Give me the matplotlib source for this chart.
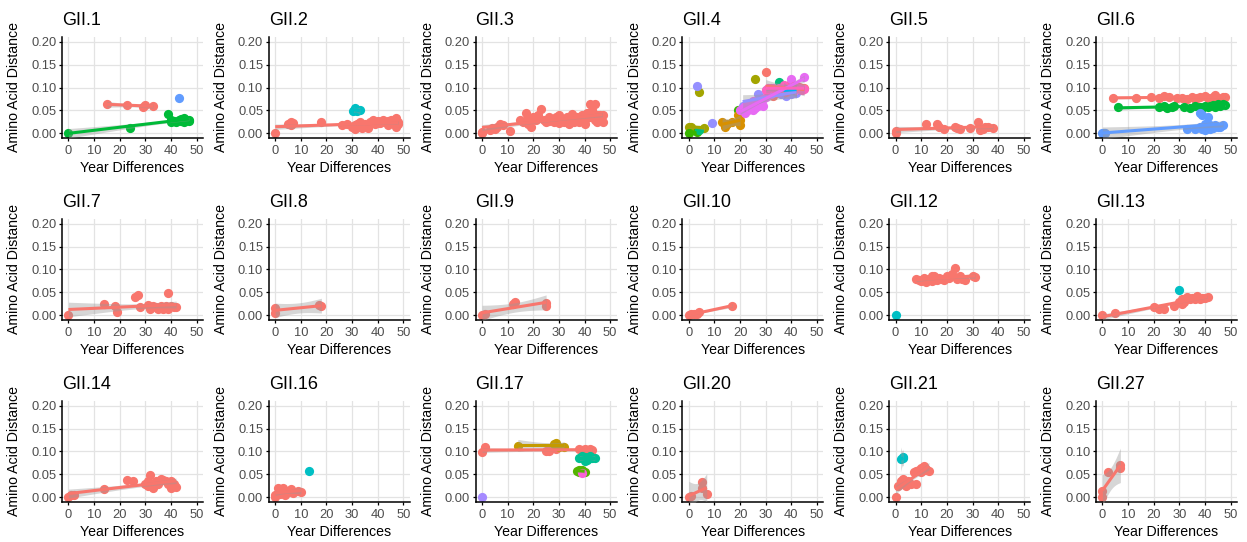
import numpy as np
import matplotlib
matplotlib.use("Agg")
import matplotlib.pyplot as plt

plt.rcParams['font.family'] = ['Liberation Sans', 'DejaVu Sans']

# ---------------- data (x = year difference, y = amino acid distance) ----------------
gii1_a = [(15,.064),(23,.061),(29,.057),(30,.062),(33,.060)]
gii1_b = [(0,0),(24,.011),(39,.042),(40,.030),(41,.028),(42,.025),(43,.030),(44,.027),
          (45,.033),(46,.030),(47,.030),(45,.025),(47,.026),(40,.025),(44,.031)]
gii1_c = [(43,.077)]

gii2_a = [(0,0),(5,.020),(6,.025),(7,.022),(6,.018),(18,.025),(26,.018),(28,.020),(30,.015),
          (31,.010),(32,.020),(33,.025),(34,.012),(35,.020),(36,.018),(37,.025),(38,.030),
          (39,.020),(40,.028),(41,.022),(42,.030),(43,.025),(44,.018),(45,.030),(46,.022),
          (47,.033),(48,.025),(48,.020),(47,.015),(36,.012),(31,.018),(33,.015),(40,.022),(44,.028)]
gii2_b = [(31,.052),(32,.048),(33,.050),(31,.055),(30.5,.049)]

gii3_a = [(0,0),(0,.002),(3,.008),(4,.012),(5,.010),(6,.015),(7,.020),(8,.018),(11,.005),
          (15,.030),(16,.025),(17,.045),(18,.020),(19,.030),(20,.035),(21,.030),(22,.040),
          (23,.053),(24,.030),(25,.025),(26,.035),(27,.030),(28,.025),(29,.035),(30,.040),
          (31,.030),(32,.025),(33,.035),(34,.030),(35,.042),(36,.030),(37,.035),(38,.025),
          (39,.040),(40,.030),(41,.045),(42,.063),(43,.050),(44,.065),(45,.040),(46,.030),
          (47,.025),(46,.040),(44,.030),(42,.035),(40,.020),(38,.030),(36,.025),(34,.020),
          (19,.015),(18,.035),(45,.025),(47,.040),(30,.022),(26,.028)]

gii4_salmon = [(30,.133),(32,.098),(34,.095),(36,.100),(38,.095),(40,.100),(42,.092),(44,.098),
               (45,.100),(35,.088),(39,.105),(43,.102),(33,.082)]
gii4_orange = [(13,.025),(14,.015),(15,.020),(19,.040),(20,.018),(20,.030),(17,.025)]
gii4_olive = [(0,.015),(1,.015),(6,.012)]
gii4_olive_2 = [(4,.090)]
gii4_olive_3 = [(26,.118)]
gii4_green = [(0,0),(3,.002)]
gii4_green_2 = [(19,.050)]
gii4_teal = [(4,.007)]
gii4_teal_2 = [(35,.112)]
gii4_blue = [(37,.093),(40,.096),(42,.095)]
gii4_lav = [(21,.060),(24,.065),(27,.085),(30,.095),(38,.082),(40,.085),(42,.088),(36,.085)]
gii4_lav_2 = [(3,.104)]
gii4_lav_3 = [(9,.022)]
gii4_pink = [(20,.050),(21,.055),(22,.060),(23,.050),(24,.065),(25,.070),(26,.055),(27,.060),
             (28,.070),(29,.075),(30,.080),(31,.090),(32,.085),(33,.090),(34,.095),(35,.090),
             (36,.100),(38,.095),(40,.118),(41,.100),(42,.095),(45,.122),(22,.045),(25,.050),
             (27,.065),(29,.060)]
gii4_hotpink = [(30,.095),(31,.100),(33,.098),(35,.100),(37,.105),(39,.098),(41,.103),(43,.100),
                (44,.095),(45,.097),(38,.090),(42,.100)]

gii5_a = [(0,0),(0,.005),(12,.020),(16,.020),(17,.015),(19,.010),(23,.013),(24,.012),(25,.010),
          (29,.012),(32,.025),(33,.008),(34,.010),(35,.013),(36,.014),(38,.012)]

gii6_a = [(4,.078),(13,.077),(19,.079),(22,.078),(24,.081),(26,.080),(29,.077),(31,.078),
          (33,.076),(35,.080),(37,.077),(38,.079),(40,.082),(41,.078),(43,.080),(44,.083),
          (45,.078),(47,.080),(48,.079),(36,.075)]
gii6_b = [(6,.058),(22,.057),(24,.060),(25,.055),(27,.058),(32,.058),(34,.055),(36,.060),
          (38,.057),(39,.055),(40,.060),(41,.058),(42,.060),(43,.062),(44,.058),(45,.065),
          (46,.060),(47,.063),(48,.062),(28,.060)]
gii6_c = [(0,0),(1,0),(0.5,0),(33,.010),(36,.010),(38,.045),(39,.040),(40,.020),(41,.035),(42,.018),
          (38,.015),(39,.010),(43,.012),(44,.018),(45,.015),(46,.013),(47,.018),(40,.008),(42,.010)]

gii7_a = [(0,0),(14,.024),(18,.020),(19,.008),(26,.040),(27,.045),(28,.018),(31,.022),(32,.015),
          (33,.020),(34,.018),(35,.015),(36,.020),(37,.018),(38,.020),(39,.048),(40,.020),
          (41,.018),(42,.018),(39,.015),(37,.015)]

gii8_a = [(0,.006),(0,.016),(17,.022),(18,.020)]

gii9_a = [(0,0),(1,.002),(12,.024),(13,.030),(25,.026),(25,.021)]

gii10_a = [(0,0),(1,.002),(2,.004),(3,.003),(4,.008),(17,.021)]

gii12_a = [(8,.080),(9,.078),(10,.075),(11,.082),(12,.078),(13,.080),(14,.075),(15,.085),
           (16,.078),(17,.082),(18,.080),(19,.078),(20,.085),(21,.082),(22,.090),(23,.103),
           (24,.080),(25,.085),(26,.080),(27,.078),(30,.085),(31,.083),(12,.072),(14,.085)]
gii12_b = [(0,0)]

gii13_a = [(0,0),(5,.005),(20,.018),(22,.015),(24,.015),(28,.020),(30,.030),(31,.035),(32,.030),
           (33,.040),(34,.035),(35,.038),(36,.035),(37,.043),(38,.035),(39,.038),(40,.038),
           (41,.040),(31,.025)]
gii13_b = [(30,.056)]

gii14_a = [(0,0),(1,.005),(2,.006),(14,.018),(23,.038),(25,.035),(30,.030),(31,.025),(32,.048),
           (33,.020),(34,.035),(35,.030),(36,.040),(37,.038),(38,.035),(39,.030),(40,.020),
           (41,.030),(42,.022),(40,.035),(31,.035)]

gii16_a = [(0,0),(0,.005),(1,.010),(1,.020),(2,.015),(3,.020),(4,.015),(5,.012),(6,.018),
           (7,.010),(9,.015),(10,.012),(2,.008),(4,.005)]
gii16_b = [(13,.057)]

gii17_a = [(0,.098),(1,.110),(25,.100),(26,.102),(29,.105),(38,.105),(39,.103),(40,.105),
           (41,.103),(42,.106),(43,.104)]
gii17_b = [(14,.112),(28,.116),(29,.118),(30,.110),(32,.110)]
gii17_c = [(37,.058),(38,.055),(39,.060),(40,.056),(38,.060),(39,.057)]
gii17_d = [(38,.085),(39,.090),(40,.088),(41,.082),(42,.090),(43,.085),(40,.080),(42,.085),(44,.086)]
gii17_e = [(0,0)]
gii17_f = [(39,.053)]

gii20_a = [(0,0),(1,.003),(5,.020),(5,.033),(7,.007)]

gii21_a = [(0,0),(1,.025),(2,.035),(3,.030),(3,.040),(4,.025),(5,.035),(6,.030),(8,.030),
           (7,.055),(8,.058),(9,.060),(10,.065),(10,.055),(11,.068),(12,.062),(13,.058),
           (12,.060),(11,.060)]
gii21_b = [(2,.083),(3,.088),(3,.085)]

gii27_a = [(0,0),(0,.013),(2,.055),(7,.070),(7,.063)]

# ggplot hue palettes
hue2 = ["#F8766D", "#00BFC4"]
hue3 = ["#F8766D", "#00BA38", "#619CFF"]
hue7 = ["#F8766D", "#C49A00", "#53B400", "#00C094", "#00B6EB", "#A58AFF", "#FB61D7"]
hue10 = ["#F8766D", "#D89000", "#A3A500", "#39B600", "#00BF7D", "#00BFC4", "#00B0F6",
         "#9590FF", "#E76BF3", "#FF62BC"]

x_ticks = [0, 10, 20, 30, 40, 50]
y_ticks = [0.00, 0.05, 0.10, 0.15, 0.20]
y_labels = ["0.00", "0.05", "0.10", "0.15", "0.20"]

panels = [
    ("GII.1", hue3, [(0, gii1_a), (1, gii1_b), (2, gii1_c)]),
    ("GII.2", hue2, [(0, gii2_a), (1, gii2_b)]),
    ("GII.3", hue2, [(0, gii3_a)]),
    ("GII.4", hue10, [(2, gii4_olive), (2, gii4_olive_2), (2, gii4_olive_3), (3, gii4_green),
                      (3, gii4_green_2), (4, gii4_teal), (4, gii4_teal_2), (1, gii4_orange),
                      (7, gii4_lav_2), (7, gii4_lav_3), (0, gii4_salmon), (7, gii4_lav),
                      (6, gii4_blue), (8, gii4_pink), (9, gii4_hotpink)]),
    ("GII.5", hue2, [(0, gii5_a)]),
    ("GII.6", hue3, [(0, gii6_a), (1, gii6_b), (2, gii6_c)]),
    ("GII.7", hue2, [(0, gii7_a)]),
    ("GII.8", hue2, [(0, gii8_a)]),
    ("GII.9", hue2, [(0, gii9_a)]),
    ("GII.10", hue2, [(0, gii10_a)]),
    ("GII.12", hue2, [(0, gii12_a), (1, gii12_b)]),
    ("GII.13", hue2, [(0, gii13_a), (1, gii13_b)]),
    ("GII.14", hue2, [(0, gii14_a)]),
    ("GII.16", hue2, [(0, gii16_a), (1, gii16_b)]),
    ("GII.17", hue7, [(0, gii17_a), (1, gii17_b), (2, gii17_c), (3, gii17_d), (5, gii17_e), (6, gii17_f)]),
    ("GII.20", hue2, [(0, gii20_a)]),
    ("GII.21", hue2, [(0, gii21_a), (1, gii21_b)]),
    ("GII.27", hue2, [(0, gii27_a)]),
]

T975 = {1: 12.706, 2: 4.303, 3: 3.182, 4: 2.776, 5: 2.571, 6: 2.447, 7: 2.365, 8: 2.306,
        9: 2.262, 10: 2.228}


def tq(df):
    if df in T975:
        return T975[df]
    z = 1.959964
    return z + (z**3 + z) / (4 * df) + (5 * z**5 + 16 * z**3 + 3 * z) / (96 * df**2)


def smooth(ax, pts, color):
    xs = np.array([p[0] for p in pts], float)
    ys = np.array([p[1] for p in pts], float)
    n = len(xs)
    if n < 2 or np.ptp(xs) == 0:
        return
    b, a = np.polyfit(xs, ys, 1)
    xg = np.linspace(xs.min(), xs.max(), 80)
    yg = a + b * xg
    if n > 2:
        res = ys - (a + b * xs)
        s = np.sqrt(np.sum(res**2) / (n - 2))
        sxx = np.sum((xs - xs.mean())**2)
        se = s * np.sqrt(1.0 / n + (xg - xs.mean())**2 / sxx)
        t = tq(n - 2)
        ax.fill_between(xg, yg - t * se, yg + t * se, color="#999999", alpha=0.4,
                        linewidth=0, zorder=3)
    ax.plot(xg, yg, color=color, lw=2.2, zorder=4, solid_capstyle='butt')


W, H = 1247, 542
fig = plt.figure(figsize=(W / 100, H / 100), dpi=100)

for i, (title, pal, groups) in enumerate(panels):
    r, c = divmod(i, 6)
    left_px = 62 + 206.8 * c
    top_px = 37 + 182 * r
    ax = fig.add_axes([left_px / W, 1 - (top_px + 101) / H, 141 / W, 101 / H])
    ax.set_xlim(-2.5, 52.5)
    ax.set_ylim(-0.01, 0.21)
    ax.set_xticks(x_ticks)
    ax.set_yticks(y_ticks)
    ax.set_yticklabels(y_labels)
    ax.grid(True, color="#E3E3E3", lw=0.9, zorder=0)
    ax.set_axisbelow(True)
    for sp in ("top", "right"):
        ax.spines[sp].set_visible(False)
    for sp in ("left", "bottom"):
        ax.spines[sp].set_linewidth(1.1)
        ax.spines[sp].set_color("black")
    ax.tick_params(axis="both", length=2.5, width=0.9, color="black",
                   labelsize=9.3, labelcolor="#4D4D4D")
    ax.tick_params(axis="y", pad=1.5)
    ax.tick_params(axis="x", pad=2.5)
    for ci, pts in groups:
        ax.scatter([p[0] for p in pts], [p[1] for p in pts], s=44, color=pal[ci],
                   linewidths=0, zorder=2)
    for ci, pts in groups:
        smooth(ax, pts, pal[ci])
    ax.set_xlabel("Year Differences", fontsize=10.2, color="black")
    ax.set_ylabel("Amino Acid Distance", fontsize=10.2, color="black")
    ax.xaxis.set_label_coords(0.5, -0.225)
    ax.yaxis.set_label_coords(-0.29, 0.5)
    ax.set_title(title, loc="left", fontsize=13, pad=8.5, color="black")

fig.savefig("out.png", dpi=100)
